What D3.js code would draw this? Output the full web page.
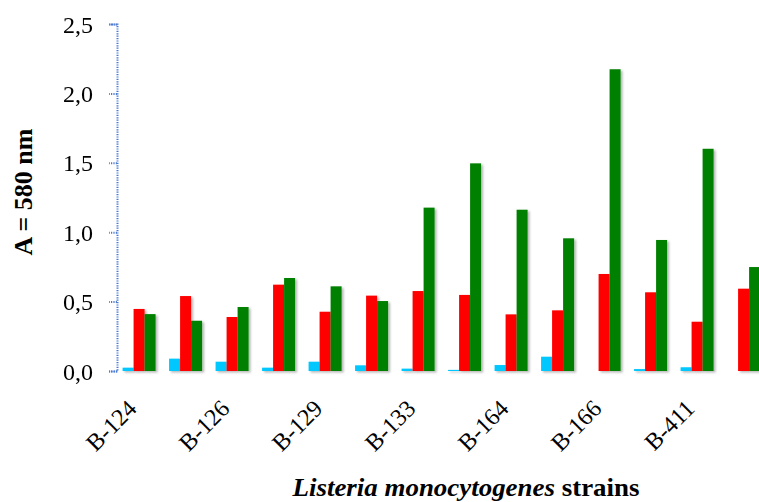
<!DOCTYPE html>
<html>
<head>
<meta charset="utf-8">
<script src="https://cdn.jsdelivr.net/npm/d3@7"></script>
<style>
  body { margin: 0; background: #fff; }
  svg { display: block; }
</style>
</head>
<body>
<div id="chart"></div>
<script>
// strain groups (only every other one carries a label in the original)
const groupCount = 14;
const strainLabels = ["B-124", "B-126", "B-129", "B-133", "B-164", "B-166", "B-411"];

// absorbance values per series
const cyanVals  = [0.024, 0.089, 0.067, 0.024, 0.067, 0.041, 0.017, 0.008, 0.043, 0.103, 0.0, 0.014, 0.027, 0.0];
const redVals   = [0.447, 0.540, 0.389, 0.622, 0.427, 0.543, 0.576, 0.548, 0.408, 0.437, 0.699, 0.567, 0.355, 0.593];
const greenVals = [0.410, 0.362, 0.461, 0.670, 0.610, 0.504, 1.177, 1.496, 1.162, 0.956, 2.174, 0.944, 1.601, 0.749];

const yTicks = [0, 0.5, 1.0, 1.5, 2.0, 2.5];

const seriesNames = ["cyan", "red", "green"];
const seriesColors = ["#00c8ff", "#ff0000", "#008000"];

const serif = "'Liberation Serif', 'Times New Roman', serif";
const width = 759, height = 502;
const x0Left = 117, yBottom = 371, yTop = 24;
const step = 46.5;

const svg = d3.select("#chart").append("svg")
  .attr("width", width)
  .attr("height", height)
  .style("font-family", serif);

const defs = svg.append("defs");
const shadow = defs.append("filter").attr("id", "shadow")
  .attr("x", "-20%").attr("y", "-5%").attr("width", "160%").attr("height", "115%");
shadow.append("feDropShadow")
  .attr("dx", 2).attr("dy", 1.5).attr("stdDeviation", 1.2)
  .attr("flood-color", "#000").attr("flood-opacity", 0.28);

const groups = d3.range(groupCount);

const x0 = d3.scaleBand()
  .domain(groups)
  .range([x0Left, x0Left + step * (groupCount - 0.29 + 0.24)])
  .paddingInner(0.29)
  .paddingOuter(0.12);

const x1 = d3.scaleBand()
  .domain(seriesNames)
  .range([0, x0.bandwidth()]);

const y = d3.scaleLinear()
  .domain([0, 2.5])
  .range([yBottom, yTop]);

const color = d3.scaleOrdinal(seriesNames, seriesColors);

const table = groups.map(i => ({
  group: i,
  values: [
    {key: "cyan", v: cyanVals[i]},
    {key: "red", v: redVals[i]},
    {key: "green", v: greenVals[i]}
  ]
}));

// bars
svg.append("g")
  .attr("filter", "url(#shadow)")
  .selectAll("g")
  .data(table)
  .join("g")
  .attr("transform", d => `translate(${x0(d.group)},0)`)
  .selectAll("rect")
  .data(d => d.values.filter(e => e.v > 0))
  .join("rect")
  .attr("x", d => x1(d.key))
  .attr("width", x1.bandwidth())
  .attr("y", d => y(d.v))
  .attr("height", d => y(0) - y(d.v))
  .attr("fill", d => color(d.key));

// x axis line
svg.append("line")
  .attr("x1", x0Left).attr("x2", width)
  .attr("y1", y(0) + 1).attr("y2", y(0) + 1)
  .attr("stroke", "#8c8c8c")
  .attr("stroke-width", 2)
  .attr("filter", "url(#shadow)");

// y axis, dotted blue
const yAxis = d3.axisLeft(y)
  .tickValues(yTicks)
  .tickSize(8)
  .tickPadding(16)
  .tickFormat(d => d3.format(".1f")(d).replace(".", ","));

const yg = svg.append("g")
  .attr("transform", `translate(${x0Left},0)`)
  .call(yAxis)
  .attr("font-family", serif);

yg.select(".domain")
  .attr("stroke", "#4a7bd0")
  .attr("stroke-width", 2)
  .attr("stroke-dasharray", "1.2,1.2");
yg.selectAll(".tick line")
  .attr("stroke", "#4a7bd0")
  .attr("stroke-width", 2)
  .attr("stroke-dasharray", "1.2,1.2");
yg.selectAll(".tick text")
  .attr("font-size", 24)
  .attr("fill", "#000")
  .attr("dy", "0.34em");

// x labels, on every other group
svg.append("g")
  .attr("font-family", serif)
  .selectAll("text")
  .data(strainLabels)
  .join("text")
  .attr("transform", (d, i) => {
    const cx = x0(groups[i * 2]) + x0.bandwidth() / 2 - 1;
    return `translate(${cx},410) rotate(-45)`;
  })
  .attr("text-anchor", "end")
  .attr("font-size", 24)
  .attr("fill", "#000")
  .text(d => d);

// axis titles
svg.append("text")
  .attr("transform", "translate(32,192) rotate(-90)")
  .attr("text-anchor", "middle")
  .attr("font-family", serif)
  .attr("font-size", 26)
  .attr("font-weight", "bold")
  .text("A = 580 nm");

const xt = svg.append("text")
  .attr("x", 466)
  .attr("y", 496)
  .attr("text-anchor", "middle")
  .attr("font-family", serif)
  .attr("font-size", 25)
  .attr("font-weight", "bold")
  .attr("textLength", 347)
  .attr("lengthAdjust", "spacingAndGlyphs");
xt.append("tspan").attr("font-style", "italic").text("Listeria monocytogenes");
xt.append("tspan").text(" strains");
</script>
</body>
</html>
